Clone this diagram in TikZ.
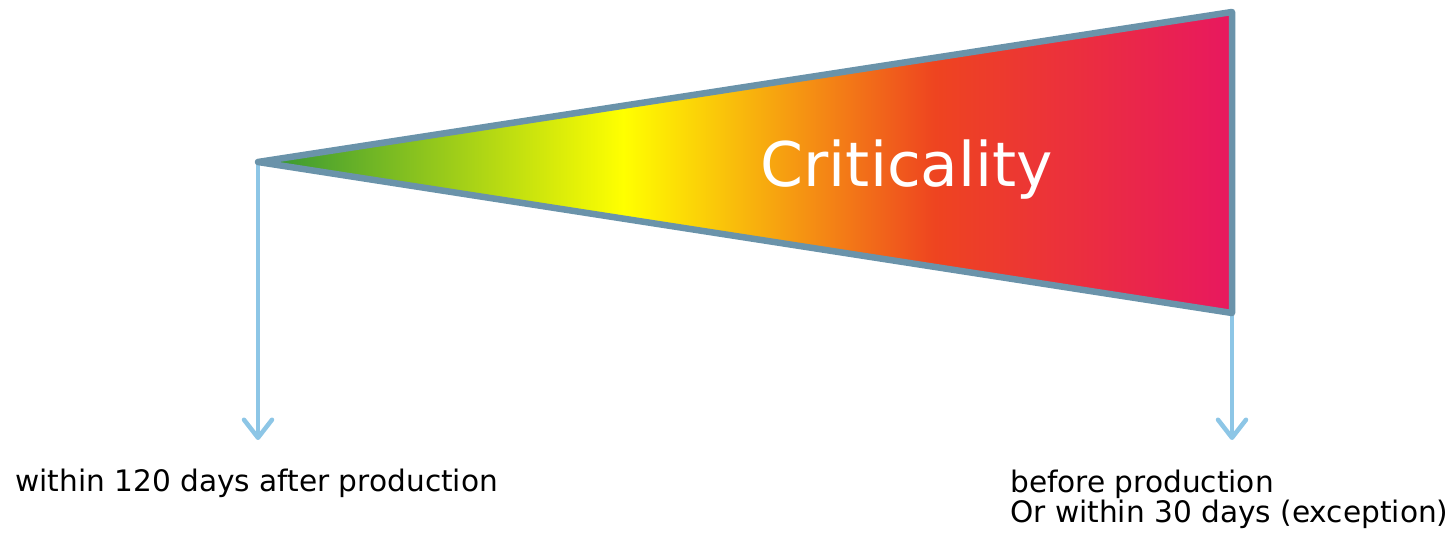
\documentclass[tikz,border=0pt]{standalone}
\usepackage{fontspec}
\setmainfont{DejaVu Sans}
\usetikzlibrary{arrows.meta}
\definecolor{cgreen}{HTML}{2F9436}
\definecolor{cyellow}{HTML}{FFFF00}
\definecolor{cred}{HTML}{EE4420}
\definecolor{cpink}{HTML}{E8185F}
\definecolor{edgeblue}{HTML}{6A93AA}
\definecolor{arrowblue}{HTML}{8DC6E6}
\pgfdeclarehorizontalshading{crit}{100bp}{color(0bp)=(cgreen); color(25bp)=(cgreen); color(43.75bp)=(cyellow); color(59.75bp)=(cred); color(75bp)=(cpink); color(100bp)=(cpink)}
\tikzset{
  wedge/.style={draw=edgeblue, line width=6.5pt, line join=round, shading=crit},
  downarrow/.style={draw=arrowblue, line width=4.5pt, -{Straight Barb[length=18pt,width=28pt,line cap=round,line join=round]}},
  label/.style={inner sep=0pt, font=\fontsize{29.6}{30}\selectfont, text=black},
}
\begin{document}
\begin{tikzpicture}[x=1pt,y=-1pt]
\useasboundingbox (0,0) rectangle (1452,534);
\coordinate (tip) at (258,162);
\coordinate (tr) at (1232,12);
\coordinate (br) at (1232,313);
\coordinate (lend) at (258,440);
\coordinate (rend) at (1232,440);
\draw[downarrow] (tip) -- (lend);
\draw[downarrow] (br) -- (rend);
\path[wedge] (tip) -- (tr) -- (br) -- cycle;
\node[inner sep=0pt, anchor=base, text=white, font=\fontsize{61.5}{62}\selectfont] (crit) at (907,187) {Criticality};
\node[label, anchor=base west] (left) at (15,492) {within 120 days after production};
\node[label, anchor=north west, align=left] (right) at (1010,470) {before production\\Or within 30 days (exception)};
\end{tikzpicture}
\end{document}
